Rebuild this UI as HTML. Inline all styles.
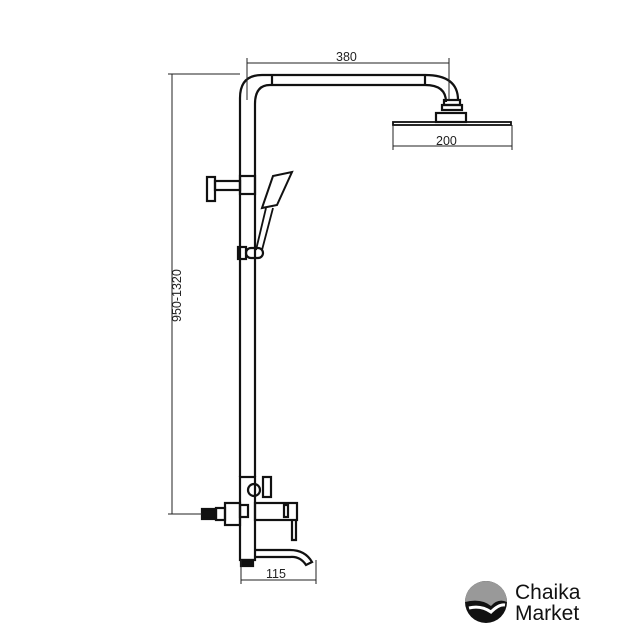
<!DOCTYPE html>
<html><head><style>body{margin:0;background:#fff}svg{display:block}</style></head><body>
<svg width="640" height="640" viewBox="0 0 640 640" xmlns="http://www.w3.org/2000/svg" font-family="Liberation Sans, sans-serif">
<g fill="none" stroke="#111" stroke-width="2.2">
<path d="M240,477 V98 Q240,75 262,75 H425 Q458,75 458,100"/>
<path d="M255,477 V104 Q255,85 270,85 H425 Q446,85 446,102"/>
<line x1="272" y1="75" x2="272" y2="85"/>
<line x1="425" y1="75" x2="425" y2="85"/>
<rect x="444" y="100" width="16" height="5"/>
<rect x="442" y="105" width="20" height="5"/>
<rect x="436" y="113" width="30" height="9"/>
<rect x="393" y="122" width="118" height="3" stroke-width="1.8"/>
<rect x="240" y="176" width="15" height="18"/>
<rect x="215" y="181" width="25" height="9"/>
<rect x="207" y="177" width="8" height="24"/>
<path d="M262,208 L273,176 L292,172 L277,205 Z" stroke-width="2"/>
<path d="M266,208 L256,250 M273,208 L262,250" stroke-width="1.8"/>
<rect x="238" y="247" width="8" height="12"/>
<rect x="246" y="248" width="17" height="10" rx="5"/>
<rect x="240" y="477" width="15" height="83"/>
<rect x="248" y="484" width="12" height="12" rx="6"/>
<rect x="263" y="477" width="8" height="20"/>
<rect x="225" y="503" width="15" height="22"/>
<rect x="216" y="508" width="9" height="12"/>
<rect x="202" y="509" width="14" height="10" fill="#111"/>
<rect x="240" y="505" width="8" height="12"/>
<rect x="255" y="503" width="42" height="17"/>
<rect x="284" y="505" width="4" height="12"/>
<path d="M292,520 V540 H296 V520"/>
<path d="M255,550 H290 Q305,550 312,562 L306,565 Q300,556 290,557 H255"/>
<rect x="241" y="560" width="12" height="6" fill="#111"/>
</g>
<g stroke="#222" stroke-width="1" fill="none">
<line x1="247" y1="63" x2="449" y2="63"/>
<line x1="247" y1="58" x2="247" y2="100"/>
<line x1="449" y1="58" x2="449" y2="100"/>
<line x1="393" y1="146" x2="512" y2="146"/>
<line x1="393" y1="125" x2="393" y2="150"/>
<line x1="512" y1="125" x2="512" y2="150"/>
<line x1="172" y1="74" x2="172" y2="514"/>
<line x1="168" y1="74" x2="240" y2="74"/>
<line x1="168" y1="514" x2="202" y2="514"/>
<line x1="241" y1="580" x2="316" y2="580"/>
<line x1="241" y1="560" x2="241" y2="584"/>
<line x1="316" y1="560" x2="316" y2="584"/>
</g>
<g fill="#222" font-size="12.5">
<text x="336" y="61">380</text>
<text x="436" y="145">200</text>
<text x="266" y="578">115</text>
<text transform="translate(181,322) rotate(-90)">950-1320</text>
</g>
<circle cx="486" cy="602" r="21" fill="#111"/>
<path d="M465,602 A21,21 0 0 1 507,602 Q498,598 491,606 Q481,598 465,602Z" fill="#999"/>
<path d="M469,608 Q481,605 491,612 Q499,604 505,605" stroke="#fff" stroke-width="3" fill="none"/>
<g fill="#111" font-size="21">
<text x="515" y="599">Chaika</text>
<text x="515" y="620">Market</text>
</g>
</svg>
</body></html>
